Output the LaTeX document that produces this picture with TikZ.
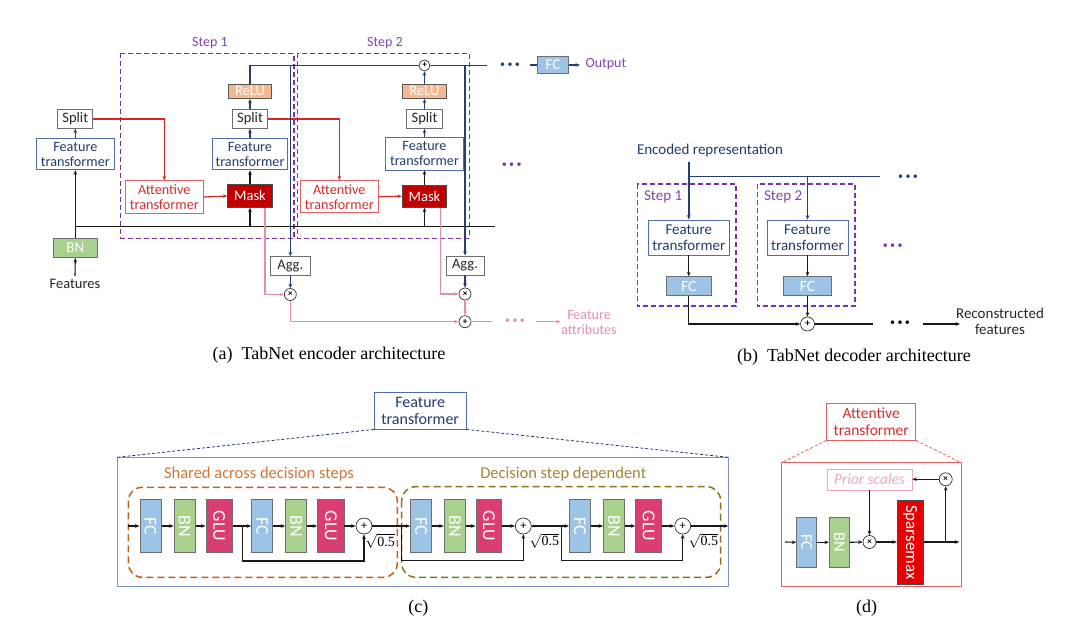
\documentclass[tikz,border=0pt]{standalone}
\usepackage{fontspec}
\setmainfont{Carlito}
\newfontfamily\capfont{Liberation Serif}
\usepackage{graphicx}
\usetikzlibrary{arrows.meta}
\definecolor{purpleD}{RGB}{120,50,175}
\definecolor{stepTxt}{RGB}{130,70,180}
\definecolor{navyL}{RGB}{38,62,115}
\definecolor{ftBorder}{RGB}{80,110,170}
\definecolor{ftText}{RGB}{35,60,110}
\definecolor{reluFill}{RGB}{244,185,145}
\definecolor{maskFill}{RGB}{192,0,0}
\definecolor{atRed}{RGB}{215,45,45}
\definecolor{atBorder}{RGB}{228,95,95}
\definecolor{redLine}{RGB}{212,40,40}
\definecolor{bnFill}{RGB}{169,209,142}
\definecolor{fcFill}{RGB}{157,195,230}
\definecolor{gluFill}{RGB}{218,62,112}
\definecolor{pinkL}{RGB}{230,140,172}
\definecolor{orangeD}{RGB}{200,95,25}
\definecolor{orangeT}{RGB}{210,118,55}
\definecolor{oliveD}{RGB}{140,112,35}
\definecolor{oliveT}{RGB}{165,132,55}
\definecolor{spmFill}{RGB}{232,0,0}
\definecolor{priorC}{RGB}{236,168,192}
\definecolor{bigBlue}{RGB}{125,145,195}
\definecolor{grayB}{RGB}{110,110,110}
\newcommand\fs[2]{\fontsize{#1}{#2}\selectfont}
\newcommand\threedots{\textbullet\hspace{2.4pt}\textbullet\hspace{2.4pt}\textbullet}
\tikzset{
  bx/.style={draw, inner sep=0pt, align=center, line width=0.8pt},
  ftbox/.style={bx, draw=ftBorder, text=ftText, fill=white, font=\fs{14.2}{15}},
  splitbox/.style={bx, draw=grayB, text=black!85, fill=white, font=\fs{14.5}{15}},
  relubox/.style={bx, draw=grayB!80!black, fill=reluFill, text=white, font=\fs{14.5}{15}},
  maskbox/.style={bx, draw=black!70, fill=maskFill, text=white, font=\fs{14.5}{15}},
  atbox/.style={bx, draw=atBorder, text=atRed, fill=white, font=\fs{14.2}{15}},
  bnbox/.style={bx, draw=grayB, fill=bnFill, text=white, font=\fs{15}{15}},
  fcbox/.style={bx, draw=grayB, fill=fcFill, text=white, font=\fs{15}{15}},
  gluv/.style={bx, draw=grayB, fill=gluFill, text=white, font=\fs{18}{18}, minimum height=52.4pt, minimum width=26.5pt},
  bnv/.style={bx, draw=grayB, fill=bnFill, text=white, font=\fs{18}{18}, minimum height=52.4pt, minimum width=21.2pt},
  fcv/.style={bx, draw=grayB, fill=fcFill, text=white, font=\fs{18}{18}, minimum height=52.4pt, minimum width=21.2pt},
  opc/.style={circle, draw=black!80, fill=white, inner sep=0pt, line width=0.7pt, font=\fs{9}{9}\bfseries},
  stepbox/.style={draw=purpleD, dash pattern=on 5pt off 3pt, line width=1.1pt},
  steplbl/.style={text=stepTxt, font=\fs{14}{15}},
  navy/.style={draw=navyL, line width=1.5pt},
  navyarr/.style={navy, ->},
  blk/.style={draw=black!90, line width=1.1pt},
  blkarr/.style={blk, ->},
  redl/.style={draw=redLine, line width=1.2pt},
  redarr/.style={redl, ->},
  pinkl/.style={draw=pinkL, line width=1.2pt},
  pinkarr/.style={pinkl, ->},
  captxt/.style={font=\capfont\fs{18}{20}},
}
\begin{document}
\begin{tikzpicture}[x=1pt,y=-1pt, >={Stealth[length=4.5pt,width=3.6pt]}]
\useasboundingbox[fill=white] (0,0) rectangle (1080,621);

% ================= (a) encoder =================
\draw[stepbox] (120.7,53.3) rectangle (294,238.3);
\draw[stepbox] (297.3,53.3) rectangle (469.3,238.3);
\node[steplbl] (s1l) at (210,43.3) {Step 1};
\node[steplbl] (s2l) at (385,43.3) {Step 2};

\node[font=\fs{14.5}{15}, text=black!85] (feat) at (75,284) {Features};
\node[bnbox, minimum width=44pt, minimum height=19pt] (bn) at (75.3,248) {BN};
\node[ftbox, minimum width=78pt, minimum height=31.7pt] (lft) at (75.3,154) {Feature\\transformer};
\node[splitbox, minimum width=35pt, minimum height=18.3pt] (lsplit) at (75.3,119) {Split};

\node[atbox, minimum width=78.3pt, minimum height=32.3pt] (at1) at (164.3,197) {Attentive\\transformer};
\node[maskbox, minimum width=44.4pt, minimum height=22.3pt] (mask1) at (250,196) {Mask};
\node[ftbox, minimum width=75.6pt, minimum height=31.7pt] (ft1) at (250,154) {Feature\\transformer};
\node[splitbox, minimum width=35.3pt, minimum height=18.3pt] (split1) at (250,119) {Split};
\node[relubox, minimum width=43.3pt, minimum height=14.3pt] (relu1) at (250,91.2) {ReLU};

\node[atbox, minimum width=78.4pt, minimum height=32pt] (at2) at (339.3,196.7) {Attentive\\transformer};
\node[maskbox, minimum width=44.4pt, minimum height=22.3pt] (mask2) at (424.5,196.2) {Mask};
\node[ftbox, minimum width=77.6pt, minimum height=32.3pt] (ft2) at (424.5,153.8) {Feature\\transformer};
\node[splitbox, minimum width=35.6pt, minimum height=19pt] (split2) at (424.5,118.8) {Split};
\node[relubox, minimum width=43.7pt, minimum height=14.3pt] (relu2) at (424.5,91.2) {ReLU};
\node[opc, minimum size=11pt] (plus2) at (424.5,65.5) {+};

\node[splitbox, minimum width=39.3pt, minimum height=18.3pt] (agg1) at (290.3,265.8) {Agg.};
\node[splitbox, minimum width=38pt, minimum height=19pt] (agg2) at (465,265.5) {Agg.};
\node[opc, minimum size=12pt] (mul1) at (290.3,294.5) {×};
\node[opc, minimum size=12pt] (mul2) at (465,294) {×};
\node[opc, minimum size=12pt] (plusA) at (465,321.7) {+};

\node[fcbox, minimum width=30.6pt, minimum height=16.7pt] (fco) at (553,65) {FC};
\node[text=stepTxt, font=\fs{14}{15}, anchor=west] (outp) at (582,64.5) {Output};
\node[text=navyL, font=\fs{10}{10}] (dtop) at (510,65.5) {\threedots};
\node[text=purpleD, font=\fs{10}{10}] (dmid) at (511.7,165) {\threedots};
\node[text=pinkL, font=\fs{10}{10}] (dpink) at (515,321.7) {\threedots};
\node[text=pinkL, font=\fs{14}{15}, align=center] (fattr) at (589,323) {Feature\\attributes};

\coordinate (busL) at (75.3,226.7);
\coordinate (busR) at (495,226.7);
\coordinate (topL) at (250,65.5);
\coordinate (topR) at (486.7,65.5);
\coordinate (v1) at (290.3,65.5);
\coordinate (v2) at (465,65.5);
\coordinate (fcin) at (530,65);
\coordinate (fout) at (580,65);
\coordinate (pA) at (491.7,321.7);
\coordinate (paS) at (536,321.7);
\coordinate (paE) at (560.7,321.7);

\draw[blkarr] (feat.north) -- (bn.south);
\draw[blkarr] (bn.north) -- (lft.south);
\draw[blk] (busL) -- (busR);
\draw[navyarr] (lft.north) -- (lsplit.south);
\draw[blkarr] (mask1.south |- busL) -- (mask1.south);
\draw[blkarr] (mask2.south |- busL) -- (mask2.south);
\draw[redarr] (lsplit.east) -| (at1.north);
\draw[redarr] (at1.east) -- (mask1.west);
\draw[redarr] (split1.east) -| (at2.north);
\draw[redarr] (at2.east) -- (mask2.west);
\draw[blkarr] (mask1.north) -- (ft1.south);
\draw[blkarr] (mask2.north) -- (ft2.south);
\draw[navyarr] (ft1.north) -- (split1.south);
\draw[navyarr] (split1.north) -- (relu1.south);
\draw[navyarr] (ft2.north) -- (split2.south);
\draw[navyarr] (split2.north) -- (relu2.south);
\draw[navyarr] (relu2.north) -- (plus2.south);
\draw[navy] (relu1.north) -- (topL) -- (plus2.west);
\draw[navy] (plus2.east) -- (topR);
\draw[navyarr] (v1) -- (agg1.north);
\draw[navyarr] (v2) -- (agg2.north);
\draw[navyarr] (agg1.south) -- (mul1.north);
\draw[navyarr] (agg2.south) -- (mul2.north);
\draw[navy, line width=1.2pt] (fcin) -- (fco.west);
\draw[navyarr, line width=1.2pt] (fco.east) -- (fout);
\draw[pinkarr] ([xshift=15pt]mask1.south) |- (mul1.west);
\draw[pinkarr] ([xshift=16.2pt]mask2.south) |- (mul2.west);
\draw[pinkarr] (mul1.south) |- (plusA.west);
\draw[pinkarr] (mul2.south) -- (plusA.north);
\draw[pinkl] (plusA.east) -- (pA);
\draw[pinkarr] (paS) -- (paE);

\node[captxt] (capa) at (329,355) {(a)\ \ TabNet encoder architecture};

% ================= (b) decoder =================
\node[text=ftText, font=\fs{15}{16}] (encr) at (710,150.7) {Encoded representation};
\draw[stepbox] (637.3,184) rectangle (736,306);
\draw[stepbox] (757.3,184) rectangle (855,306);
\node[steplbl, font=\fs{15}{16}, anchor=west] (ds1) at (640.5,197) {Step 1};
\node[steplbl, font=\fs{15}{16}, anchor=west] (ds2) at (760.5,196.5) {Step 2};
\node[ftbox, font=\fs{15}{16}, minimum width=81.7pt, minimum height=35pt] (dft1) at (688.8,237.5) {Feature\\transformer};
\node[ftbox, font=\fs{15}{16}, minimum width=81pt, minimum height=35pt] (dft2) at (807.5,237.5) {Feature\\transformer};
\node[fcbox, font=\fs{15.5}{16}, minimum width=45.7pt, minimum height=19pt] (dfc1) at (688.8,286.2) {FC};
\node[fcbox, font=\fs{15.5}{16}, minimum width=47.4pt, minimum height=19pt] (dfc2) at (807.5,286.2) {FC};
\node[opc, minimum size=14pt, font=\fs{10}{10}\bfseries] (dplus) at (807.5,324) {+};
\node[text=navyL, font=\fs{10}{10}] (ddtop) at (908,177.5) {\threedots};
\node[text=purpleD, font=\fs{10}{10}] (ddmid) at (892.7,246.7) {\threedots};
\node[text=black, font=\fs{10}{10}] (ddbot) at (900,323.5) {\threedots};
\node[font=\fs{15}{16}, align=center, text=black!85] (recon) at (1000,321) {Reconstructed\\features};
\coordinate (encT) at (688.8,161.7);
\coordinate (hL) at (688.8,176.7);
\coordinate (hR) at (880,176.7);
\coordinate (dpE) at (873.3,324);
\coordinate (raS) at (923.3,324);
\coordinate (raE) at (960,324);
\draw[navyarr] (encT) -- (dft1.north);
\draw[navy, line width=1.2pt] (hL) -- (hR);
\draw[navyarr] (dft2.north |- hL) -- (dft2.north);
\draw[blkarr] (dft1.south) -- (dfc1.north);
\draw[blkarr] (dft2.south) -- (dfc2.north);
\draw[blkarr] (dfc1.south) |- (dplus.west);
\draw[blkarr] (dfc2.south) -- (dplus.north);
\draw[blk] (dplus.east) -- (dpE);
\draw[blkarr] (raS) -- (raE);
\node[captxt] (capb) at (854,356.7) {(b)\ \ TabNet decoder architecture};

% ================= (c) feature transformer =================
\node[ftbox, font=\fs{16}{17}, minimum width=91.7pt, minimum height=36.7pt] (ftc) at (420.2,410.7) {Feature\\transformer};
\coordinate (bigTL) at (117.3,457.3);
\coordinate (bigTR) at (728.3,457.3);
\draw[draw=bigBlue, line width=1pt] (bigTL) rectangle (728.3,586.7);
\draw[draw=ftText, dash pattern=on 3pt off 2pt, line width=0.8pt] (ftc.south west) -- (bigTL);
\draw[draw=ftText, dash pattern=on 3pt off 2pt, line width=0.8pt] (ftc.south east) -- (bigTR);
\draw[draw=orangeD, dash pattern=on 7pt off 4pt, line width=1.5pt, rounded corners=14pt] (128.3,487.3) rectangle (397.3,577.3);
\draw[draw=oliveD, dash pattern=on 7pt off 4pt, line width=1.5pt, rounded corners=14pt] (401.7,486.7) rectangle (720.7,577.3);
\node[text=orangeT, font=\fs{16.5}{18}] (shl) at (259,474.3) {Shared across decision steps};
\node[text=oliveT, font=\fs{16.5}{18}] (dsl) at (563.3,474.3) {Decision step dependent};

\node[fcv] (c1) at (150.5,526) {\rotatebox{-90}{FC}};
\node[bnv] (c2) at (184.7,526) {\rotatebox{-90}{BN}};
\node[gluv] (c3) at (219.2,526) {\rotatebox{-90}{GLU}};
\node[fcv] (c4) at (262.2,526) {\rotatebox{-90}{FC}};
\node[bnv] (c5) at (296.2,526) {\rotatebox{-90}{BN}};
\node[gluv] (c6) at (330.8,526) {\rotatebox{-90}{GLU}};
\node[opc, minimum size=16pt, font=\fs{12}{12}] (p1) at (364,526) {+};
\node[fcv] (c7) at (421.2,526) {\rotatebox{-90}{FC}};
\node[bnv] (c8) at (454.8,526) {\rotatebox{-90}{BN}};
\node[gluv, minimum width=25.7pt] (c9) at (488.8,526) {\rotatebox{-90}{GLU}};
\node[opc, minimum size=16pt, font=\fs{12}{12}] (p2) at (523.3,526) {+};
\node[fcv] (c10) at (580,526) {\rotatebox{-90}{FC}};
\node[bnv] (c11) at (614.2,526) {\rotatebox{-90}{BN}};
\node[gluv, minimum width=26pt] (c12) at (648.7,526) {\rotatebox{-90}{GLU}};
\node[opc, minimum size=16pt, font=\fs{12}{12}] (p3) at (682.7,526) {+};
\node[font=\fs{14}{14}] (r1) at (380,541) {$\sqrt{\hbox{\capfont 0.5}}$};
\node[font=\fs{14}{14}] (r2) at (544.3,540.5) {$\sqrt{\hbox{\capfont 0.5}}$};
\node[font=\fs{14}{14}] (r3) at (703.3,540.5) {$\sqrt{\hbox{\capfont 0.5}}$};

\coordinate (cin) at (128.3,526);
\coordinate (j1) at (242.7,526);
\coordinate (j2) at (401.7,526);
\coordinate (j3) at (561.7,526);
\coordinate (cout) at (728.3,526);
\draw[blkarr] (cin) -- (c1.west);
\draw[blkarr] (c1.east) -- (c2.west);
\draw[blkarr] (c2.east) -- (c3.west);
\draw[blkarr] (c3.east) -- (c4.west);
\draw[blkarr] (c4.east) -- (c5.west);
\draw[blkarr] (c5.east) -- (c6.west);
\draw[blkarr] (c6.east) -- (p1.west);
\draw[blkarr] (p1.east) -- (c7.west);
\draw[blkarr] (c7.east) -- (c8.west);
\draw[blkarr] (c8.east) -- (c9.west);
\draw[blkarr] (c9.east) -- (p2.west);
\draw[blkarr] (p2.east) -- (c10.west);
\draw[blkarr] (c10.east) -- (c11.west);
\draw[blkarr] (c11.east) -- (c12.west);
\draw[blkarr] (c12.east) -- (p3.west);
\draw[blkarr] (p3.east) -- (cout);
\draw[blkarr] (j1) -- ++(0,35) -| (p1.south);
\draw[blkarr] (j2) -- ++(0,34.7) -| (p2.south);
\draw[blkarr] (j3) -- ++(0,34.7) -| (p3.south);
\node[captxt] (capc) at (418.3,608.3) {(c)};

% ================= (d) attentive transformer =================
\node[atbox, font=\fs{15.5}{17}, minimum width=89pt, minimum height=36.7pt] (atd) at (871.2,421.7) {Attentive\\transformer};
\coordinate (dTL) at (781.7,462.7);
\coordinate (dTR) at (961,462.7);
\draw[draw=atBorder, line width=1pt] (dTL) rectangle (961,586.7);
\draw[draw=atBorder, dash pattern=on 3pt off 2pt, line width=0.8pt] (atd.south west) -- (dTL);
\draw[draw=atBorder, dash pattern=on 3pt off 2pt, line width=0.8pt] (atd.south east) -- (dTR);
\node[bx, draw=priorC, text=priorC, font=\fs{15.5}{17}\itshape, minimum width=85pt, minimum height=21pt, line width=0.7pt] (prior) at (869.5,479.5) {Prior scales};
\node[opc, minimum size=13pt] (mtop) at (945.7,479.3) {×};
\node[bx, draw=grayB, fill=fcFill, text=white, font=\fs{16.5}{16.5}, minimum width=20pt, minimum height=50pt] (dfc) at (806.7,542.3) {\rotatebox{-90}{FC}};
\node[bx, draw=grayB, fill=bnFill, text=white, font=\fs{16.5}{16.5}, minimum width=20pt, minimum height=50pt] (dbn) at (839.3,542.3) {\rotatebox{-90}{BN}};
\node[opc, minimum size=13pt] (mlow) at (869.5,542) {×};
\node[bx, draw=black!70, fill=spmFill, text=white, font=\fs{17}{17}, minimum width=26pt, minimum height=83.3pt] (spm) at (910.3,542.3) {\rotatebox{-90}{Sparsemax}};
\coordinate (din) at (785,542);
\coordinate (dj) at (945.7,542);
\coordinate (dout) at (959.3,542);
\draw[blkarr] (din) -- (dfc.west);
\draw[blkarr] (dfc.east) -- (dbn.west);
\draw[blkarr] (dbn.east) -- (mlow.west);
\draw[blkarr] (mlow.east) -- (spm.west |- mlow.east);
\draw[blkarr] (spm.east |- dj) -- (dout);
\draw[blkarr] (dj) -- (mtop.south);
\draw[blkarr] (mtop.west) -- (prior.east |- mtop.west);
\draw[blkarr] (prior.south) -- (mlow.north);
\node[captxt] (capd) at (866.7,608.3) {(d)};
\end{tikzpicture}
\end{document}
